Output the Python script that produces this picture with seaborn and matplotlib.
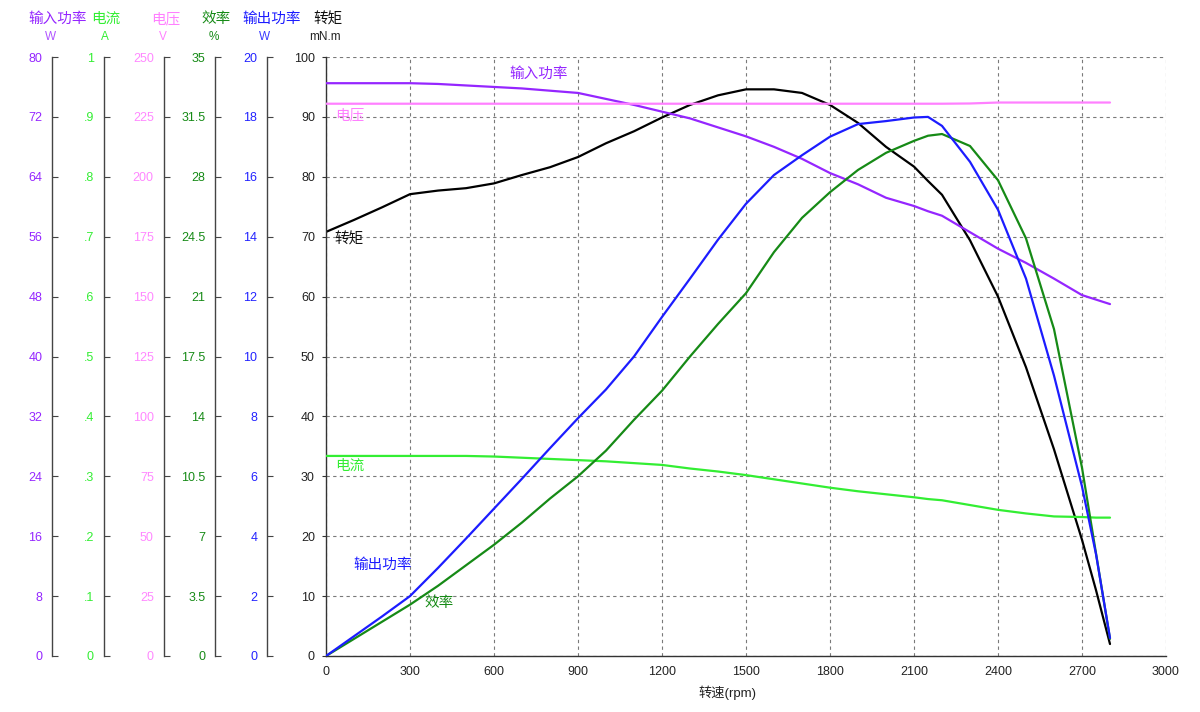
import matplotlib
matplotlib.use("Agg")
import matplotlib.pyplot as plt
import seaborn as sns

# ---------------- data ----------------
rpm = [0, 100, 200, 300, 400, 500, 600, 700, 800, 900, 1000, 1100, 1200, 1300,
       1400, 1500, 1600, 1700, 1800, 1900, 2000, 2100, 2150, 2200, 2300, 2400,
       2500, 2600, 2700, 2750, 2800]

# torque, mN.m (0-100 scale)
torque = [70.8, 72.8, 74.9, 77.1, 77.7, 78.1, 78.9, 80.3, 81.6, 83.3, 85.6, 87.6,
          89.9, 92.0, 93.6, 94.6, 94.6, 94.0, 92.0, 89.0, 85.0, 81.7, 79.3, 77.0,
          69.4, 60.0, 48.2, 34.5, 19.4, 11.0, 2.0]

# input power, W (0-80 scale)
input_power = [76.5, 76.5, 76.5, 76.5, 76.4, 76.2, 76.0, 75.8, 75.5, 75.2, 74.4,
               73.6, 72.7, 71.8, 70.6, 69.4, 68.0, 66.4, 64.5, 63.0, 61.2, 60.1,
               59.4, 58.8, 56.6, 54.4, 52.5, 50.4, 48.2, 47.6, 47.0]

# current, A (0-1 scale)
current = [0.334, 0.334, 0.334, 0.334, 0.334, 0.334, 0.333, 0.331, 0.329, 0.327,
           0.325, 0.322, 0.319, 0.313, 0.308, 0.302, 0.295, 0.288, 0.281, 0.275,
           0.270, 0.265, 0.262, 0.260, 0.252, 0.244, 0.238, 0.233, 0.232, 0.231,
           0.231]

# voltage, V (0-250 scale)
voltage = [230.5, 230.5, 230.5, 230.5, 230.5, 230.5, 230.5, 230.5, 230.5, 230.5,
           230.5, 230.5, 230.5, 230.5, 230.5, 230.5, 230.5, 230.5, 230.5, 230.5,
           230.5, 230.5, 230.5, 230.5, 230.6, 231.0, 231.0, 231.0, 231.0, 231.0,
           231.0]

# efficiency, % (0-35 scale)
efficiency = [0.0, 1.0, 2.0, 3.0, 4.1, 5.3, 6.5, 7.8, 9.2, 10.5, 12.0, 13.8, 15.5,
              17.5, 19.4, 21.2, 23.6, 25.6, 27.1, 28.4, 29.4, 30.1, 30.4, 30.5,
              29.8, 27.8, 24.4, 19.1, 11.0, 6.0, 1.0]

# output power, W (0-20 scale)
output_power = [0.0, 0.66, 1.32, 2.0, 2.94, 3.92, 4.92, 5.92, 6.94, 7.94, 8.9,
                10.0, 11.32, 12.6, 13.9, 15.1, 16.06, 16.72, 17.34, 17.76, 17.86,
                17.98, 18.0, 17.7, 16.5, 14.9, 12.6, 9.36, 5.66, 3.4, 0.6]

x_ticks = [0, 300, 600, 900, 1200, 1500, 1800, 2100, 2400, 2700, 3000]
torque_ticks = [0, 10, 20, 30, 40, 50, 60, 70, 80, 90, 100]
input_ticks = [0, 8, 16, 24, 32, 40, 48, 56, 64, 72, 80]
current_ticks = [0, 0.1, 0.2, 0.3, 0.4, 0.5, 0.6, 0.7, 0.8, 0.9, 1.0]
current_labels = ["0", ".1", ".2", ".3", ".4", ".5", ".6", ".7", ".8", ".9", "1"]
voltage_ticks = [0, 25, 50, 75, 100, 125, 150, 175, 200, 225, 250]
eff_ticks = [0, 3.5, 7, 10.5, 14, 17.5, 21, 24.5, 28, 31.5, 35]
eff_labels = ["0", "3.5", "7", "10.5", "14", "17.5", "21", "24.5", "28", "31.5", "35"]
output_ticks = [0, 2, 4, 6, 8, 10, 12, 14, 16, 18, 20]

C_IN = "#9526FF"
C_CUR = "#33EE33"
C_VOLT = "#FF80FF"
C_EFF = "#168A16"
C_OUT = "#1C1CFF"
C_TQ = "#000000"

# ---------------- style ----------------
sns.set_style("white")
plt.rcParams["font.family"] = ["Liberation Sans", "Noto Sans CJK SC", "DejaVu Sans"]

W, H = 1200, 712
fig = plt.figure(figsize=(W / 100, H / 100), dpi=100)
fig.patch.set_facecolor("white")

def fx(px):
    return px / W

def fy(py):
    return 1 - py / H

ax = fig.add_axes([fx(326), fy(656), 840 / W, 599 / H])
ax.set_xlim(0, 3000)
ax.set_ylim(0, 100)
ax.set_xticks(x_ticks)
ax.set_yticks(torque_ticks)
ax.set_xticklabels([str(v) for v in x_ticks])
ax.set_yticklabels([str(v) for v in torque_ticks])
ax.grid(True, color="#7a7a7a", linestyle=(0, (3, 3)), linewidth=0.8)
for s in ["top", "right"]:
    ax.spines[s].set_visible(False)
for s in ["left", "bottom"]:
    ax.spines[s].set_color("#333333")
    ax.spines[s].set_linewidth(1.0)
ax.tick_params(axis="y", direction="out", length=3, pad=5, labelsize=9,
               colors="#333333", labelcolor="#222222", left=True)
ax.tick_params(axis="x", direction="out", length=0, pad=7, labelsize=9,
               labelcolor="#222222")

sns.lineplot(x=rpm, y=torque, ax=ax, color=C_TQ, linewidth=1.6, estimator=None)


def side_axis(frac, ylim, ticks, labels, color):
    a = ax.twinx()
    a.set_ylim(*ylim)
    a.patch.set_visible(False)
    for s in ["right", "top", "bottom"]:
        a.spines[s].set_visible(False)
    a.spines["left"].set_visible(True)
    a.spines["left"].set_position(("axes", frac))
    a.spines["left"].set_color("#444444")
    a.spines["left"].set_linewidth(1.0)
    a.yaxis.set_ticks_position("left")
    a.yaxis.set_label_position("left")
    a.set_yticks(ticks)
    a.set_yticklabels(labels)
    a.tick_params(axis="y", direction="in", length=4, pad=7, labelsize=9,
                  colors="#444444", labelcolor=color, left=True, right=False)
    a.grid(False)
    return a


def frac_of(px):
    return (px - 326) / 840


ax_in = side_axis(frac_of(52), (0, 80), input_ticks, [str(v) for v in input_ticks], C_IN)
ax_cur = side_axis(frac_of(103.5), (0, 1), current_ticks, current_labels, C_CUR)
ax_volt = side_axis(frac_of(163.5), (0, 250), voltage_ticks, [str(v) for v in voltage_ticks], "#FF88FF")
ax_eff = side_axis(frac_of(215), (0, 35), eff_ticks, eff_labels, C_EFF)
ax_out = side_axis(frac_of(267), (0, 20), output_ticks, [str(v) for v in output_ticks], "#2222FF")

sns.lineplot(x=rpm, y=voltage, ax=ax_volt, color=C_VOLT, linewidth=1.6, estimator=None)
sns.lineplot(x=rpm, y=current, ax=ax_cur, color=C_CUR, linewidth=1.6, estimator=None)
sns.lineplot(x=rpm, y=input_power, ax=ax_in, color=C_IN, linewidth=1.6, estimator=None)
sns.lineplot(x=rpm, y=efficiency, ax=ax_eff, color=C_EFF, linewidth=1.6, estimator=None)
sns.lineplot(x=rpm, y=output_power, ax=ax_out, color=C_OUT, linewidth=1.6, estimator=None)

for a in [ax, ax_in, ax_cur, ax_volt, ax_eff, ax_out]:
    a.set_xlim(0, 3000)
    a.set_xlabel("")
    a.set_ylabel("")
ax_in.set_ylim(0, 80)
ax_cur.set_ylim(0, 1)
ax_volt.set_ylim(0, 250)
ax_eff.set_ylim(0, 35)
ax_out.set_ylim(0, 20)
ax.set_ylim(0, 100)

# ---------------- header names and units ----------------
headers = [("输入功率", 57.5, C_IN), ("电流", 106, C_CUR), ("电压", 166, C_VOLT),
           ("效率", 216, C_EFF), ("输出功率", 272, C_OUT), ("转矩", 328, "#111111")]
for txt, px, c in headers:
    fig.text(fx(px), fy(19), txt, ha="center", va="center", color=c, fontsize=10.5)
units = [("W", 51, "#B055FF"), ("A", 105, C_CUR), ("V", 163, C_VOLT),
         ("%", 214, C_EFF), ("W", 265, "#3A3AFF"), ("mN.m", 325, "#222222")]
for txt, px, c in units:
    fig.text(fx(px), fy(37.5), txt, ha="center", va="center", color=c, fontsize=8.5)

# ---------------- curve labels ----------------
curve_labels = [("输入功率", 539, 74, C_IN), ("电压", 349.5, 115, C_VOLT),
                ("转矩", 349, 239.5, "#111111"), ("电流", 349.5, 466, C_CUR),
                ("输出功率", 383, 565, C_OUT), ("效率", 439, 603.5, C_EFF)]
for txt, px, py, c in curve_labels:
    fig.text(fx(px), fy(py), txt, ha="center", va="center", color=c, fontsize=10.5)

fig.text(fx(727), fy(693), "转速(rpm)", ha="center", va="center", color="#222222", fontsize=9.5)

fig.savefig("out.png", dpi=100, facecolor="white")
